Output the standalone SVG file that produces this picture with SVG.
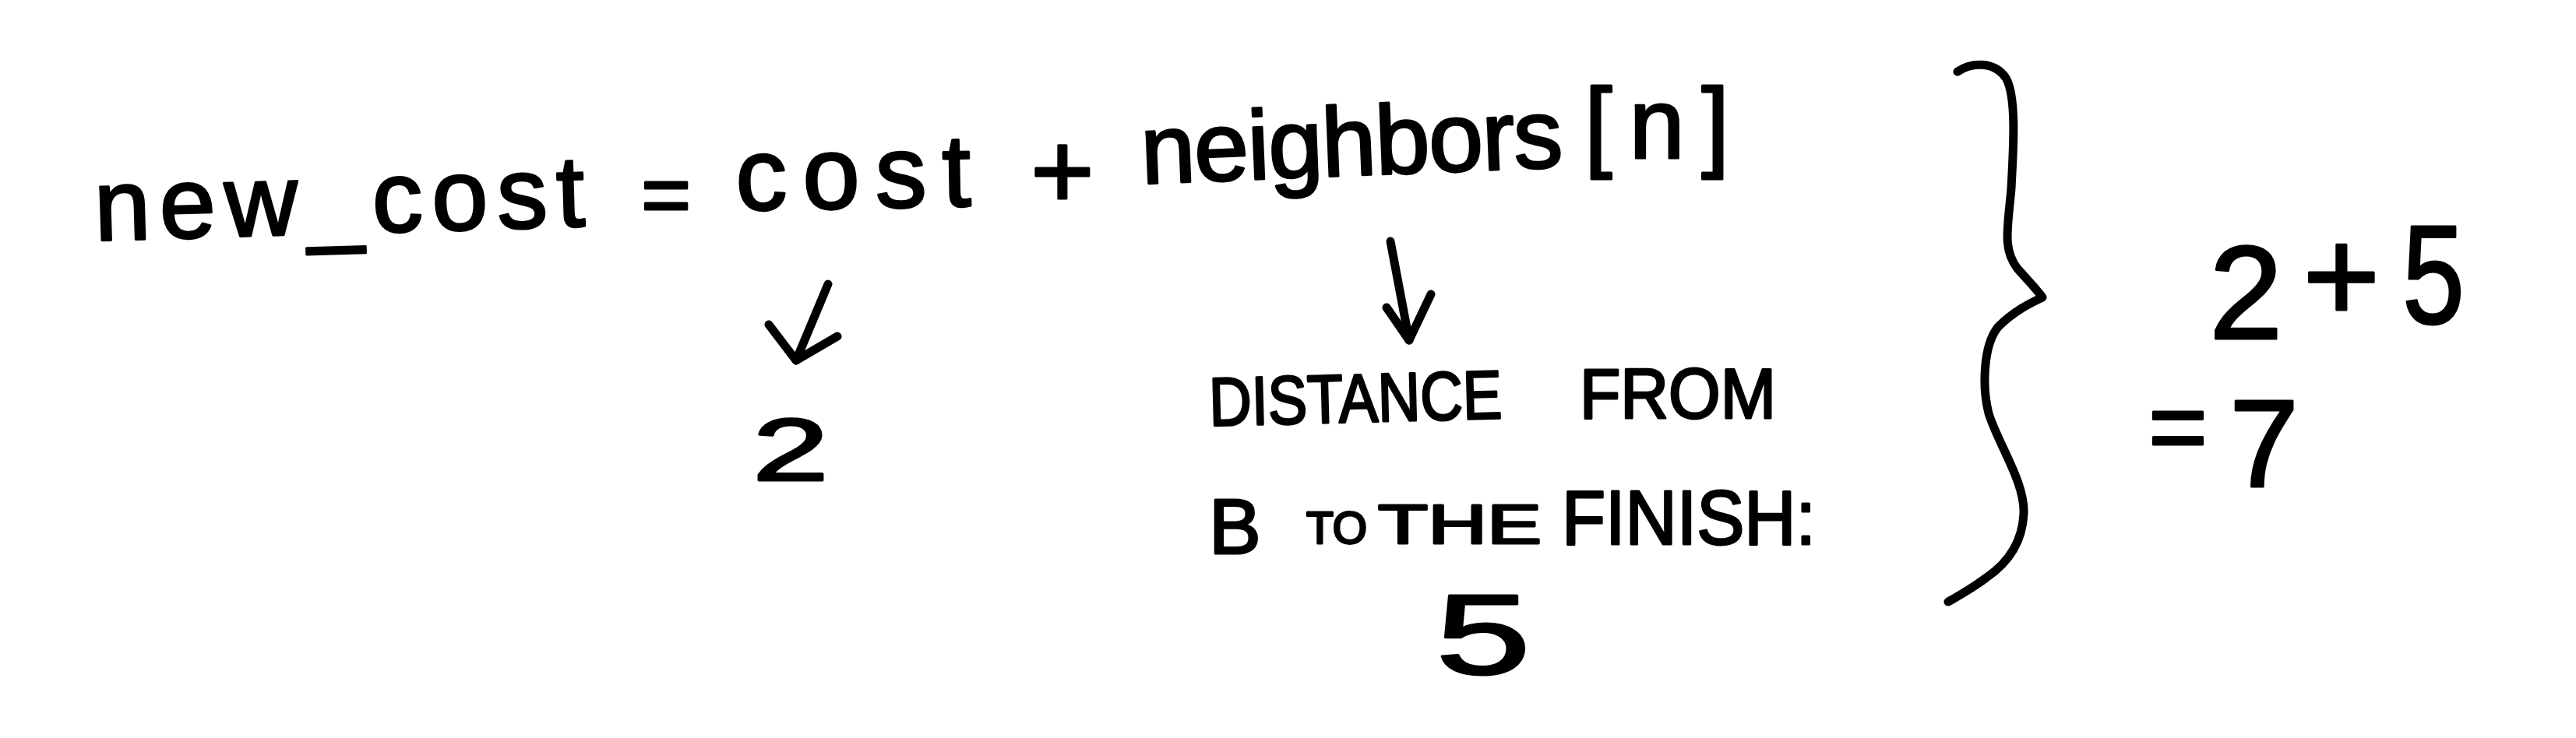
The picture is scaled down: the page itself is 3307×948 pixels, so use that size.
<svg xmlns="http://www.w3.org/2000/svg" width="3307" height="948" viewBox="0 0 3307 948">
<style>
.t{font-family:"Liberation Sans","DejaVu Sans",sans-serif;fill:#000;stroke:#000;stroke-width:3;stroke-linejoin:round}
.ln{fill:none;stroke:#000;stroke-width:11;stroke-linecap:round;stroke-linejoin:round}
</style>
<rect width="3307" height="948" fill="#fff"/>
<g id="formula">
<text class="t" x="122" y="309" font-size="130" textLength="630" lengthAdjust="spacing" transform="rotate(-1.7 122 309)">new_cost</text>
<text class="t" x="855" y="287" font-size="110" text-anchor="middle">=</text>
<text class="t" x="945" y="270" font-size="132" textLength="302" lengthAdjust="spacing" transform="rotate(-1 945 270)">cost</text>
<text class="t" x="1364" y="267" font-size="140" text-anchor="middle">+</text>
<text class="t" x="1466" y="236" font-size="126" textLength="542" lengthAdjust="spacing" transform="rotate(-2.3 1466 236)">neighbors</text>
<text class="t" x="2034" y="203" font-size="128" textLength="186" lengthAdjust="spacing">[n]</text>
</g>
<g id="cost-value">
<text class="t" x="966" y="617" font-size="113" textLength="98" lengthAdjust="spacingAndGlyphs">2</text>
</g>
<g id="distance-label">
<text class="t" x="1553" y="547" font-size="88" textLength="376" lengthAdjust="spacingAndGlyphs" transform="rotate(-1.5 1553 547)">DISTANCE</text>
<text class="t" x="2028" y="537" font-size="90" textLength="252" lengthAdjust="spacingAndGlyphs">FROM</text>
<text class="t" x="1552" y="711" font-size="100">B</text>
<text class="t" x="1677" y="698" font-size="57" textLength="78" lengthAdjust="spacingAndGlyphs">TO</text>
<text class="t" x="1769" y="698" font-size="71" textLength="210" lengthAdjust="spacingAndGlyphs">THE</text>
<text class="t" x="2005" y="699" font-size="98" textLength="326" lengthAdjust="spacingAndGlyphs">FINISH:</text>
<text class="t" x="1843" y="866" font-size="146" textLength="122" lengthAdjust="spacingAndGlyphs">5</text>
</g>
<g id="sum">
<text class="t" x="2836" y="435" font-size="170">2</text>
<text class="t" x="3006" y="413" font-size="170" text-anchor="middle">+</text>
<text class="t" x="3084" y="415" font-size="180" textLength="80" lengthAdjust="spacingAndGlyphs">5</text>
<text class="t" x="2796" y="593" font-size="130" text-anchor="middle">=</text>
<text class="t" x="2862" y="625" font-size="160">7</text>
</g>
<g id="brace">
<path class="ln" d="M2513,92 C2530,80 2560,78 2575,100 C2590,125 2584,200 2582,242 C2578,290 2570,320 2590,345 C2605,362 2615,372 2622,382 C2605,390 2585,400 2565,420 C2545,445 2545,500 2553,531 C2565,570 2600,620 2598,660 C2596,700 2575,725 2550,742 C2530,757 2515,765 2501,773"/>
</g>
<g id="connectors">
<path class="ln" d="M1063,365 L1022,463"/>
<path class="ln" d="M987,417 L1022,463 L1075,432"/>
<path class="ln" d="M1785,310 L1809,437"/>
<path class="ln" d="M1780,395 L1809,437 L1837,378"/>
</g>
</svg>
